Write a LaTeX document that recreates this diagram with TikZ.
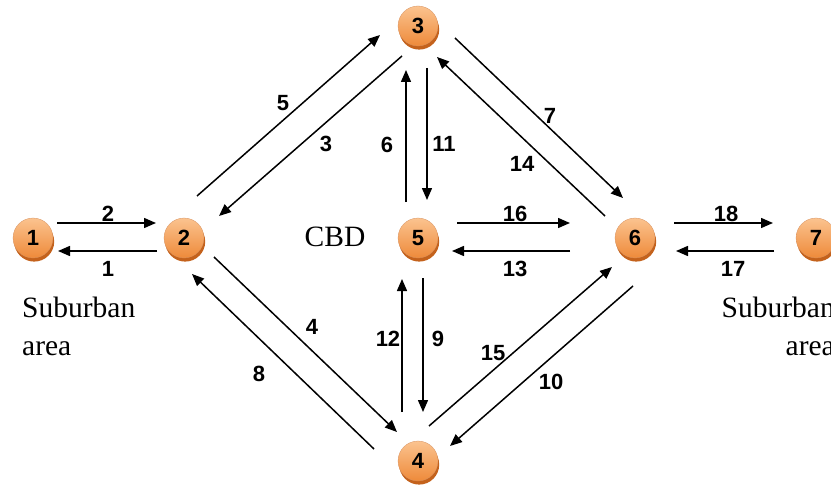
\documentclass[tikz,border=0pt]{standalone}
\usepackage{fontspec}
\setmainfont{Liberation Serif}
\newfontfamily\labelfont{Liberation Sans}
\usetikzlibrary{arrows.meta}

\definecolor{ballrim}{HTML}{C4621C}
\definecolor{balltop}{HTML}{FBC38F}
\definecolor{ballbottom}{HTML}{EE8A3A}

\tikzset{
  ball/.style={circle, minimum size=40pt, inner sep=0pt,
    top color=balltop, bottom color=ballbottom,
    draw=ballrim!70, line width=0.3pt,
    preaction={fill=ballrim, transform canvas={shift={(1.2pt,-3.6pt)}}},
    font=\labelfont\bfseries\fontsize{22}{23}\selectfont},
  flow/.style={line width=1.5pt, -{Triangle[length=12pt,width=10pt]}},
  lbl/.style={font=\labelfont\bfseries\fontsize{22}{23}\selectfont, inner sep=0pt},
  area/.style={font=\fontsize{29.5}{30}\selectfont, inner sep=0pt}
}

\begin{document}
\begin{tikzpicture}[x=1pt, y=-1pt]
  \fill[white] (0,0) rectangle (831,487);
  \useasboundingbox (0,0) rectangle (831,487);

  % zones
  \node[ball] (n1) at (33,238) {1};
  \node[ball] (n2) at (184,238) {2};
  \node[ball] (n3) at (418,26) {3};
  \node[ball] (n4) at (418,461) {4};
  \node[ball] (n5) at (418,238) {5};
  \node[ball] (n6) at (635,238) {6};
  \node[ball] (n7) at (816,238) {7};

  % area captions
  \node[area] (cbd) at (335,237) {CBD};
  \node[area, anchor=base west] (subL1) at (22,317) {Suburban};
  \node[area, anchor=base west] (subL2) at (22,355) {area};
  \node[area, anchor=base east] (subR1) at (835,317) {Suburban};
  \node[area, anchor=base east] (subR2) at (835,355) {area};

  % links between zones
  \draw[flow] ([shift={(24,-15)}]n1.center) -- ([shift={(-28,-15)}]n2.center);
  \draw[flow] ([shift={(-27,13)}]n2.center) -- ([shift={(25,13)}]n1.center);
  \draw[flow] ([shift={(13,-42)}]n2.center) -- ([shift={(-38,9)}]n3.center);
  \draw[flow] ([shift={(-16,30)}]n3.center) -- ([shift={(35,-22)}]n2.center);
  \draw[flow] ([shift={(-12,-36)}]n5.center) -- ([shift={(-12,44)}]n3.center);
  \draw[flow] ([shift={(9,42)}]n3.center) -- ([shift={(9,-38)}]n5.center);
  \draw[flow] ([shift={(37,12)}]n3.center) -- ([shift={(-12,-40)}]n6.center);
  \draw[flow] ([shift={(-30,-22)}]n6.center) -- ([shift={(19,31)}]n3.center);
  \draw[flow] ([shift={(39,-15)}]n5.center) -- ([shift={(-65,-15)}]n6.center);
  \draw[flow] ([shift={(-65,13)}]n6.center) -- ([shift={(34,13)}]n5.center);
  \draw[flow] ([shift={(39,-15)}]n6.center) -- ([shift={(-43,-15)}]n7.center);
  \draw[flow] ([shift={(-42,13)}]n7.center) -- ([shift={(41,13)}]n6.center);
  \draw[flow] ([shift={(30,19)}]n2.center) -- ([shift={(-21,-29)}]n4.center);
  \draw[flow] ([shift={(-44,-12)}]n4.center) -- ([shift={(8,36)}]n2.center);
  \draw[flow] ([shift={(-16,-49)}]n4.center) -- ([shift={(-16,41)}]n5.center);
  \draw[flow] ([shift={(5,40)}]n5.center) -- ([shift={(5,-49)}]n4.center);
  \draw[flow] ([shift={(11,-35)}]n4.center) -- ([shift={(-23,29)}]n6.center);
  \draw[flow] ([shift={(-2,48)}]n6.center) -- ([shift={(32,-15)}]n4.center);

  % link numbers
  \node[lbl] (l2)  at (108,214) {2};
  \node[lbl] (l1)  at (108,269) {1};
  \node[lbl] (l5)  at (283,103) {5};
  \node[lbl] (l3)  at (326,144) {3};
  \node[lbl] (l6)  at (387,145) {6};
  \node[lbl] (l11) at (444,144) {11};
  \node[lbl] (l7)  at (550,116) {7};
  \node[lbl] (l14) at (522,164) {14};
  \node[lbl] (l16) at (515,214) {16};
  \node[lbl] (l13) at (515,269) {13};
  \node[lbl] (l18) at (726,214) {18};
  \node[lbl] (l17) at (733,269) {17};
  \node[lbl] (l4)  at (312,327) {4};
  \node[lbl] (l8)  at (259,374) {8};
  \node[lbl] (l12) at (388,339) {12};
  \node[lbl] (l9)  at (438,339) {9};
  \node[lbl] (l15) at (493,353) {15};
  \node[lbl] (l10) at (551,382) {10};
\end{tikzpicture}
\end{document}
